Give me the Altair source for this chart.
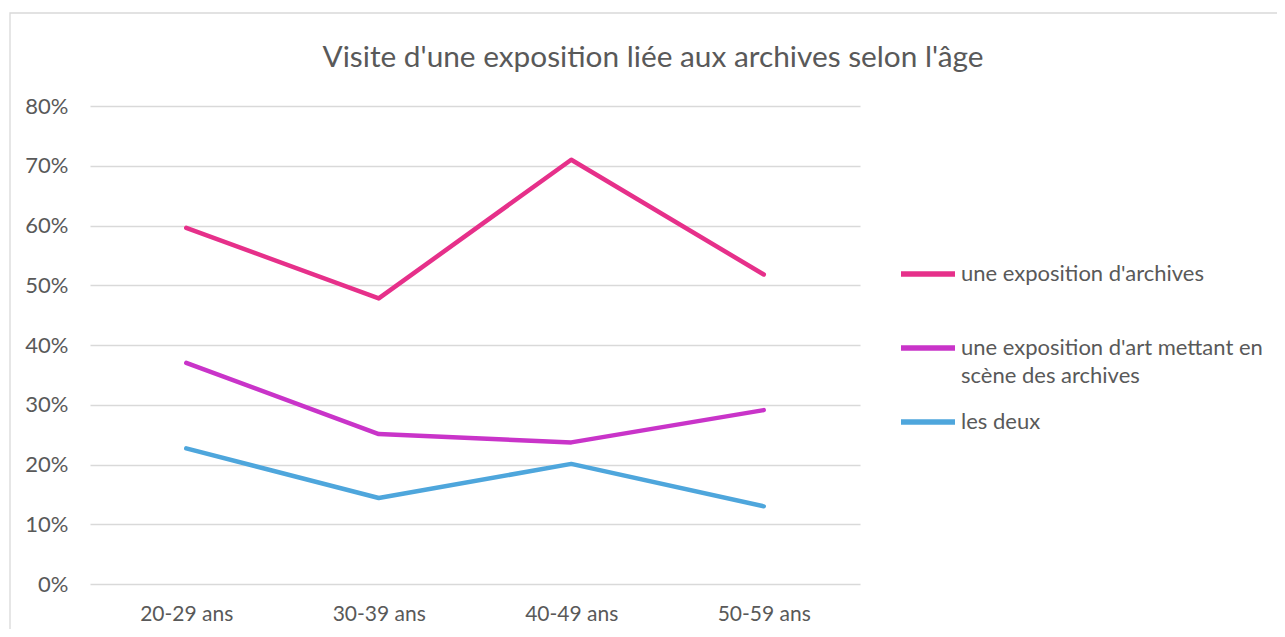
import altair as alt
import pandas as pd

ages = ["20-29 ans", "30-39 ans", "40-49 ans", "50-59 ans"]
series = ["une exposition d'archives", "une exposition d'art mettant en scène des archives", "les deux"]
v_archives = [0.596, 0.478, 0.710, 0.518]
v_art = [0.370, 0.251, 0.237, 0.291]
v_deux = [0.227, 0.144, 0.201, 0.130]
colors = ["#E6308A", "#C934C9", "#4EA6DC"]

rows = []
for s, vals in zip(series, [v_archives, v_art, v_deux]):
    for a, v in zip(ages, vals):
        rows.append({"age": a, "serie": s, "val": v})
df = pd.DataFrame(rows)

font = "Lato"
gray = "#595959"

label_expr = (
    "datum.label == \"une exposition d'art mettant en scène des archives\" "
    "? ['une exposition d\\'art mettant en', 'scène des archives'] : [datum.label, ' ']"
)

lines = alt.Chart(df).mark_line(strokeWidth=4.5, strokeCap="round", strokeJoin="round").encode(
    x=alt.X("age:N", sort=ages, title=None,
            scale=alt.Scale(paddingInner=0, paddingOuter=0.5),
            axis=alt.Axis(labelAngle=0, ticks=False, domain=False, grid=False,
                          labelPadding=19, labelFontSize=21, labelColor=gray, labelFont=font)),
    y=alt.Y("val:Q", title=None,
            scale=alt.Scale(domain=[0, 0.8]),
            axis=alt.Axis(format=".0%", values=[0, 0.1, 0.2, 0.3, 0.4, 0.5, 0.6, 0.7, 0.8],
                          ticks=False, domain=False, gridColor="#D9D9D9", gridWidth=1.5,
                          labelPadding=22, labelFontSize=22, labelColor=gray, labelFont=font)),
    color=alt.Color("serie:N", sort=series, title=None,
                    scale=alt.Scale(domain=series, range=colors),
                    legend=alt.Legend(orient="none", legendX=808, legendY=138,
                                      symbolType="stroke", symbolSize=2916, symbolStrokeWidth=5.5,
                                      labelFontSize=22, labelColor=gray, labelFont=font,
                                      labelLimit=500, rowPadding=5, labelOffset=3,
                                      labelExpr=label_expr)),
)

frame = alt.Chart(pd.DataFrame({"a": [0]})).mark_rect(
    fill=None, stroke="#D9D9D9", strokeWidth=1.3, clip=False
).encode(
    x=alt.value(-80), x2=alt.value(1250), y=alt.value(-93), y2=alt.value(560)
)

chart = alt.layer(frame, lines).properties(
    width=770, height=478,
    title=alt.TitleParams("Visite d'une exposition liée aux archives selon l'âge",
                          fontSize=29.8, font=font, fontWeight="normal", color=gray,
                          anchor="middle", frame="group", dx=178, offset=-60),
    autosize=alt.AutoSizeParams(type="none"),
    padding={"left": 82, "top": 98, "right": 417, "bottom": 45},
).configure(
    background="white",
    style={"guide-label": {"lineHeight": 28}},
).configure_view(stroke=None)

chart.save("out.html", embed_options={"renderer": "svg", "actions": False})
